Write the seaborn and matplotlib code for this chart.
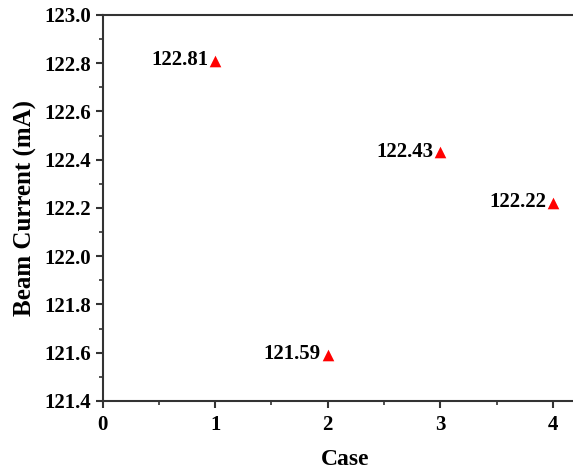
import pandas as pd
import matplotlib
matplotlib.use("Agg")
import matplotlib.pyplot as plt
import seaborn as sns
from matplotlib.ticker import MultipleLocator, FormatStrFormatter

cases = [1, 2, 3, 4]
beam_current = [122.81, 121.59, 122.43, 122.22]
value_labels = ["122.81", "121.59", "122.43", "122.22"]

sns.set_theme(style="ticks")
plt.rcParams["font.family"] = ["Liberation Serif", "DejaVu Serif"]
plt.rcParams["font.weight"] = "bold"
plt.rcParams["text.color"] = "black"
plt.rcParams["axes.labelcolor"] = "black"

df = pd.DataFrame({"Case": cases, "Beam Current (mA)": beam_current})

fig = plt.figure(figsize=(5.73, 4.75), dpi=100)
ax = fig.add_axes([0.179, 0.156, 0.845, 0.8126])

sns.scatterplot(data=df, x="Case", y="Beam Current (mA)", marker="^",
                color="#ff0000", s=70, linewidth=0, ax=ax, zorder=3)

for xv, yv, lab in zip(cases, beam_current, value_labels):
    ax.annotate(lab, (xv, yv), xytext=(-5, -3), textcoords="offset points",
                ha="right", va="baseline", fontsize=15, fontweight="bold", color="black")

ax.set_xlim(0, 4.3)
ax.set_ylim(121.4, 123.0)
ax.xaxis.set_major_locator(MultipleLocator(1))
ax.xaxis.set_minor_locator(MultipleLocator(0.5))
ax.yaxis.set_major_locator(MultipleLocator(0.2))
ax.yaxis.set_minor_locator(MultipleLocator(0.1))
ax.yaxis.set_major_formatter(FormatStrFormatter("%.1f"))

ax.set_xlabel("Case", fontsize=17, fontweight="bold", labelpad=10, color="black")
ax.set_ylabel("Beam Current (mA)", fontsize=18, fontweight="bold", labelpad=5, color="black")

for side in ["left", "bottom", "top"]:
    ax.spines[side].set_linewidth(1.5)
    ax.spines[side].set_color("#333333")
ax.spines["right"].set_visible(False)

ax.tick_params(which="major", direction="out", length=5, width=1.5, labelsize=15,
               colors="#333333", labelcolor="black")
ax.tick_params(axis="x", which="major", pad=5)
ax.tick_params(which="minor", direction="out", length=3, width=1.2, colors="#333333")
for lab in ax.get_xticklabels() + ax.get_yticklabels():
    lab.set_fontweight("bold")

plt.savefig("out.png", dpi=100)
plt.close()
